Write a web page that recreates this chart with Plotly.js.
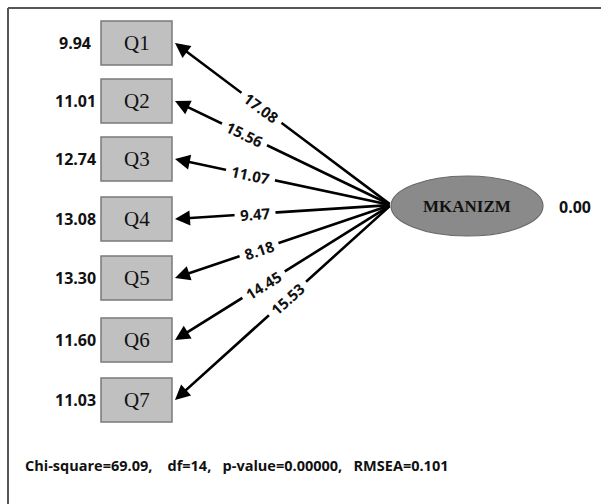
<!DOCTYPE html>
<html>
<head>
<meta charset="utf-8">
<script src="https://cdn.plot.ly/plotly-3.0.1.min.js"></script>
<style>html,body{margin:0;padding:0;background:#fff;}#chart{width:601px;height:504px;}</style>
</head>
<body>
<div id="chart"></div>
<script>
// ---- data ----
const items = ['Q1', 'Q2', 'Q3', 'Q4', 'Q5', 'Q6', 'Q7'];
const errorVariances = [9.94, 11.01, 12.74, 13.08, 13.30, 11.60, 11.03];
const tValues = [17.08, 15.56, 11.07, 9.47, 8.18, 14.45, 15.53];
const latentName = 'MKANIZM';
const latentVariance = 0.00;
const chiSquare = 69.09;
const dfValue = 14;
const pValue = '0.00000';
const rmsea = 0.101;

// ---- layout (pixel-space diagram positions) ----
const boxY = [43, 101, 159, 219, 278, 340, 400];
const boxX0 = 101, boxX1 = 172, boxH = 44;
const errX = 75;
const ell = {cx: 467, cy: 206, rx: 76, ry: 30};
const hub = {x: 391, y: 205};
const labelFrac = [0.60, 0.68, 0.65, 0.63, 0.61, 0.59, 0.48];

const sans = '"Open Sans", Lato, sans-serif';
const serif = '"Liberation Serif", "DejaVu Serif", serif';
const nb = '\u00a0';
const B = s => '<b>' + s + '</b>';

const shapes = [];
const annotations = [];

// frame (top and left lines)
shapes.push({type: 'line', xref: 'x', yref: 'y', x0: 8, y0: 8, x1: 601, y1: 8, line: {color: '#555', width: 2}});
shapes.push({type: 'line', xref: 'x', yref: 'y', x0: 8, y0: 8, x1: 8, y1: 504, line: {color: '#555', width: 2}});

items.forEach((q, i) => {
  const yc = boxY[i];
  shapes.push({type: 'rect', xref: 'x', yref: 'y', x0: boxX0, x1: boxX1, y0: yc - boxH / 2, y1: yc + boxH / 2,
    fillcolor: '#c0c0c0', line: {color: '#7a7a7a', width: 1.5}});
  annotations.push({x: (boxX0 + boxX1) / 2, y: yc, xref: 'x', yref: 'y', text: q, showarrow: false,
    font: {family: serif, size: 21, color: '#111'}});
  annotations.push({x: errX, y: yc, xref: 'x', yref: 'y', text: B(errorVariances[i].toFixed(2)), showarrow: false,
    font: {family: sans, size: 16, color: '#111'}});
});

// ellipse
shapes.push({type: 'circle', xref: 'x', yref: 'y', x0: ell.cx - ell.rx, x1: ell.cx + ell.rx, y0: ell.cy - ell.ry, y1: ell.cy + ell.ry,
  fillcolor: '#8a8a8a', line: {color: '#6a6a6a', width: 1.2}});
annotations.push({x: ell.cx, y: ell.cy, xref: 'x', yref: 'y', text: B(latentName), showarrow: false,
  font: {family: serif, size: 17, color: '#111'}});
annotations.push({x: 575, y: ell.cy + 1, xref: 'x', yref: 'y', text: B(latentVariance.toFixed(2)), showarrow: false,
  font: {family: sans, size: 16, color: '#111'}});

// arrows
const tipX = boxX1 + 3;
items.forEach((q, i) => {
  annotations.push({x: tipX, y: boxY[i], ax: hub.x, ay: hub.y, xref: 'x', yref: 'y', axref: 'x', ayref: 'y',
    text: '', showarrow: true, arrowhead: 2, arrowsize: 1.15, arrowwidth: 2.6, arrowcolor: '#000', standoff: 0, startstandoff: 0});
});
// t-value labels
items.forEach((q, i) => {
  const dx = hub.x - tipX, dy = hub.y - boxY[i];
  const f = labelFrac[i];
  const lx = hub.x - f * dx, ly = hub.y - f * dy;
  const ang = Math.atan2(dy, dx) * 180 / Math.PI;
  annotations.push({x: lx, y: ly, xref: 'x', yref: 'y', text: B(tValues[i].toFixed(2)), showarrow: false,
    textangle: ang, bgcolor: '#fff', borderpad: 5,
    font: {family: sans, size: 15, color: '#111'}});
});

// fit statistics
const fitText = 'Chi-square=' + chiSquare.toFixed(2) + ',' + nb + nb + nb + ' df=' + dfValue + ',' + nb + nb + ' p-value=' + pValue + ',' + nb + nb + ' RMSEA=' + rmsea.toFixed(3);
annotations.push({x: 23, y: 465, xref: 'x', yref: 'y', xanchor: 'left', text: B(fitText), showarrow: false,
  font: {family: sans, size: 14.5, color: '#111'}});

const layout = {
  width: 601, height: 504,
  margin: {l: 0, r: 0, t: 0, b: 0, pad: 0},
  paper_bgcolor: '#fff', plot_bgcolor: '#fff',
  showlegend: false,
  xaxis: {range: [0, 601], visible: false, fixedrange: true},
  yaxis: {range: [504, 0], visible: false, fixedrange: true},
  shapes: shapes,
  annotations: annotations
};

Plotly.newPlot('chart', [{x: [], y: [], type: 'scatter', mode: 'markers', hoverinfo: 'skip'}], layout, {staticPlot: true, displayModeBar: false});
</script>
</body>
</html>
